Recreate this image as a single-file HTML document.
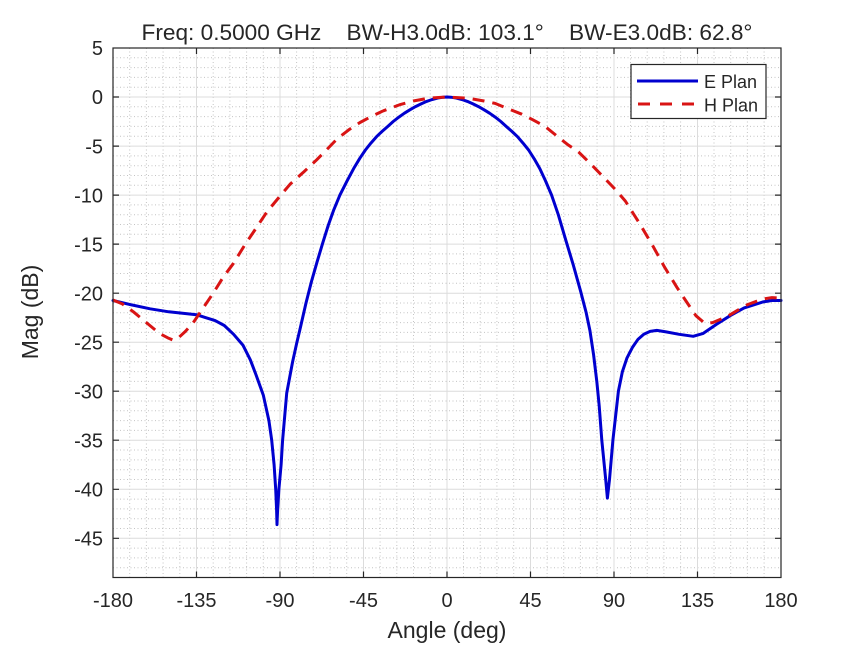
<!DOCTYPE html>
<html><head><meta charset="utf-8"><style>
html,body{margin:0;padding:0;background:#fff;}
svg{display:block;}
text{font-family:"Liberation Sans",Arial,sans-serif;fill:#262626;}
</style></head><body>
<svg width="865" height="649" viewBox="0 0 865 649" xmlns="http://www.w3.org/2000/svg">
<rect x="0" y="0" width="865" height="649" fill="#fff"/>
<!-- minor grid -->
<path fill="none" stroke="#c4c4c4" stroke-width="1" stroke-dasharray="1 2.5" d="
M129.7 48V577.5 M146.4 48V577.5 M163.1 48V577.5 M179.8 48V577.5
M213.2 48V577.5 M229.9 48V577.5 M246.6 48V577.5 M263.3 48V577.5
M296.6 48V577.5 M313.3 48V577.5 M330.0 48V577.5 M346.7 48V577.5
M380.1 48V577.5 M396.8 48V577.5 M413.5 48V577.5 M430.2 48V577.5
M463.5 48V577.5 M480.2 48V577.5 M496.9 48V577.5 M513.7 48V577.5
M547.1 48V577.5 M563.7 48V577.5 M580.4 48V577.5 M597.1 48V577.5
M630.5 48V577.5 M647.2 48V577.5 M663.9 48V577.5 M680.6 48V577.5
M714.0 48V577.5 M730.7 48V577.5 M747.4 48V577.5 M764.1 48V577.5
M113 57.8H781 M113 67.6H781 M113 77.4H781 M113 87.2H781
M113 106.8H781 M113 116.6H781 M113 126.4H781 M113 136.3H781
M113 155.9H781 M113 165.7H781 M113 175.5H781 M113 185.3H781
M113 204.9H781 M113 214.7H781 M113 224.5H781 M113 234.3H781
M113 253.9H781 M113 263.7H781 M113 273.5H781 M113 283.3H781
M113 303.0H781 M113 312.8H781 M113 322.6H781 M113 332.4H781
M113 352.0H781 M113 361.8H781 M113 371.6H781 M113 381.4H781
M113 401.0H781 M113 410.8H781 M113 420.6H781 M113 430.4H781
M113 450.0H781 M113 459.9H781 M113 469.7H781 M113 479.5H781
M113 499.1H781 M113 508.9H781 M113 518.7H781 M113 528.5H781
M113 548.1H781 M113 557.9H781 M113 567.7H781"/>
<!-- major grid -->
<path fill="none" stroke="#dcdcdc" stroke-width="1" d="
M196.5 48V577.5 M280 48V577.5 M363.5 48V577.5 M447 48V577.5 M530.5 48V577.5 M614 48V577.5 M697.5 48V577.5
M113 97H781 M113 146.1H781 M113 195.1H781 M113 244.1H781 M113 293.2H781 M113 342.2H781 M113 391.2H781 M113 440.2H781 M113 489.3H781 M113 538.3H781"/>
<!-- curves -->
<polyline fill="none" stroke="#0000cf" stroke-width="3" stroke-linejoin="round" stroke-linecap="round" points="113.0,300.5 131.6,304.9 150.1,308.8 168.7,311.8 187.2,313.7 196.5,314.7 205.8,317.7 215.1,320.6 224.3,325.5 233.6,334.3 242.9,345.1 250.3,359.8 255.9,374.5 263.3,395.1 268.9,420.6 271.7,440.2 274.1,464.8 275.7,489.3 276.6,510 277.0,524.6 277.6,510 278.9,489.3 281.1,464.8 282.6,440.2 286.7,393.2 292.6,361.8 296.7,343.2 300.4,327.5 306.0,303.0 311.5,281.4 317.1,261.8 322.7,243.1 328.2,225.5 333.8,209.8 339.9,195.1 346.8,181.4 354.2,167.6 359.8,158.3 365.4,150.0 370.9,143.1 376.5,136.7 382.1,131.4 387.7,126.5 393.2,121.5 398.9,117.1 404.4,113.2 409.9,109.8 415.5,106.6 421.1,103.9 426.6,101.4 432.2,99.5 437.7,98.0 443.3,97.2 447.0,97.0 450.7,97.2 456.3,98.0 461.8,99.5 467.4,101.4 473.0,103.9 478.5,106.6 484.1,109.8 489.6,113.2 495.2,117.1 500.8,121.5 506.3,126.5 511.9,131.4 517.5,136.7 523.0,143.1 528.6,150.0 534.2,158.8 539.8,168.6 545.3,180.4 551.6,195.1 558.3,214.7 565.8,240.2 573.2,264.7 580.6,291.2 586.2,312.8 589.9,330.4 593.6,354.9 596.8,381.4 599.2,405.9 601.8,440.2 605.7,479.5 607.4,498.1 609.5,479.5 612.9,440.2 618.4,391.2 622.4,371.6 627.0,357.9 632.6,347.1 638.1,339.2 643.8,334.3 650.1,331.4 656.8,330.4 666.1,331.9 679.1,334.3 693.2,336.3 703.2,333.4 716.2,324.5 730.1,315.7 744.1,307.9 762.6,302.0 771.9,300.5 781.0,300.5"/>
<polyline fill="none" stroke="#d91414" stroke-width="3" stroke-linejoin="round" stroke-dasharray="12 8" points="113.0,300.0 122.3,303.9 133.4,311.8 146.4,322.6 159.4,333.4 168.7,338.3 173.3,340.2 177.9,338.3 185.4,331.4 193.3,322.6 203.9,306.9 213.2,293.2 223.0,277.5 233.2,263.7 244.7,245.1 256.6,227.4 267.0,211.8 280.0,196.1 290.0,184.3 304.1,171.6 316.7,159.8 326.4,150.0 336.8,139.2 348.7,129.9 360.0,122.5 372.8,115.7 383.4,110.8 400.7,104.4 413.2,101.0 428.4,98.2 447.0,97.0 468.3,98.2 484.1,101.0 495.1,103.4 508.3,108.8 521.8,114.2 532.4,119.6 545.0,126.4 558.4,137.2 567.7,144.6 578.5,151.9 590.0,163.2 601.9,175.5 615.1,189.2 625.3,201.0 640.2,224.5 653.5,247.1 664.3,266.7 676.9,287.3 685.3,300.0 695.9,315.7 705.1,323.6 712.6,322.6 726.9,316.7 736.7,310.8 746.9,304.9 762.6,299.0 771.9,297.6 781.0,298.1"/>
<!-- axes box -->
<rect x="113" y="48" width="668" height="529.5" fill="none" stroke="#262626" stroke-width="1.2"/>
<!-- ticks -->
<path fill="none" stroke="#262626" stroke-width="1.2" d="
M196.5 577.5v-6 M280 577.5v-6 M363.5 577.5v-6 M447 577.5v-6 M530.5 577.5v-6 M614 577.5v-6 M697.5 577.5v-6
M196.5 48v6 M280 48v6 M363.5 48v6 M447 48v6 M530.5 48v6 M614 48v6 M697.5 48v6
M113 97h6 M113 146.1h6 M113 195.1h6 M113 244.1h6 M113 293.2h6 M113 342.2h6 M113 391.2h6 M113 440.2h6 M113 489.3h6 M113 538.3h6
M781 97h-6 M781 146.1h-6 M781 195.1h-6 M781 244.1h-6 M781 293.2h-6 M781 342.2h-6 M781 391.2h-6 M781 440.2h-6 M781 489.3h-6 M781 538.3h-6"/>
<!-- y tick labels -->
<g font-size="20" text-anchor="end">
<text x="103" y="55.2">5</text>
<text x="103" y="104.2">0</text>
<text x="103" y="153.3">-5</text>
<text x="103" y="202.3">-10</text>
<text x="103" y="251.3">-15</text>
<text x="103" y="300.4">-20</text>
<text x="103" y="349.4">-25</text>
<text x="103" y="398.4">-30</text>
<text x="103" y="447.4">-35</text>
<text x="103" y="496.5">-40</text>
<text x="103" y="545.5">-45</text>
</g>
<!-- x tick labels -->
<g font-size="20" text-anchor="middle">
<text x="113" y="607">-180</text>
<text x="196.5" y="607">-135</text>
<text x="280" y="607">-90</text>
<text x="363.5" y="607">-45</text>
<text x="447" y="607">0</text>
<text x="530.5" y="607">45</text>
<text x="614" y="607">90</text>
<text x="697.5" y="607">135</text>
<text x="781" y="607">180</text>
</g>
<!-- title and labels -->
<text x="447" y="40" font-size="22.5" text-anchor="middle" xml:space="preserve" textLength="611" lengthAdjust="spacingAndGlyphs">Freq: 0.5000 GHz    BW-H3.0dB: 103.1°    BW-E3.0dB: 62.8°</text>
<text x="447" y="638" font-size="23" text-anchor="middle">Angle (deg)</text>
<text transform="translate(38,312) rotate(-90)" font-size="23" text-anchor="middle">Mag (dB)</text>
<!-- legend -->
<rect x="631" y="64.5" width="135" height="54" fill="#fff" stroke="#262626" stroke-width="1.2"/>
<line x1="637" y1="81" x2="698" y2="81" stroke="#0000cf" stroke-width="3"/>
<line x1="638" y1="104" x2="698" y2="104" stroke="#d91414" stroke-width="3" stroke-dasharray="12 10"/>
<text x="704" y="88" font-size="18" fill="#000">E Plan</text>
<text x="704" y="111.5" font-size="18" fill="#000">H Plan</text>
</svg>
</body></html>
